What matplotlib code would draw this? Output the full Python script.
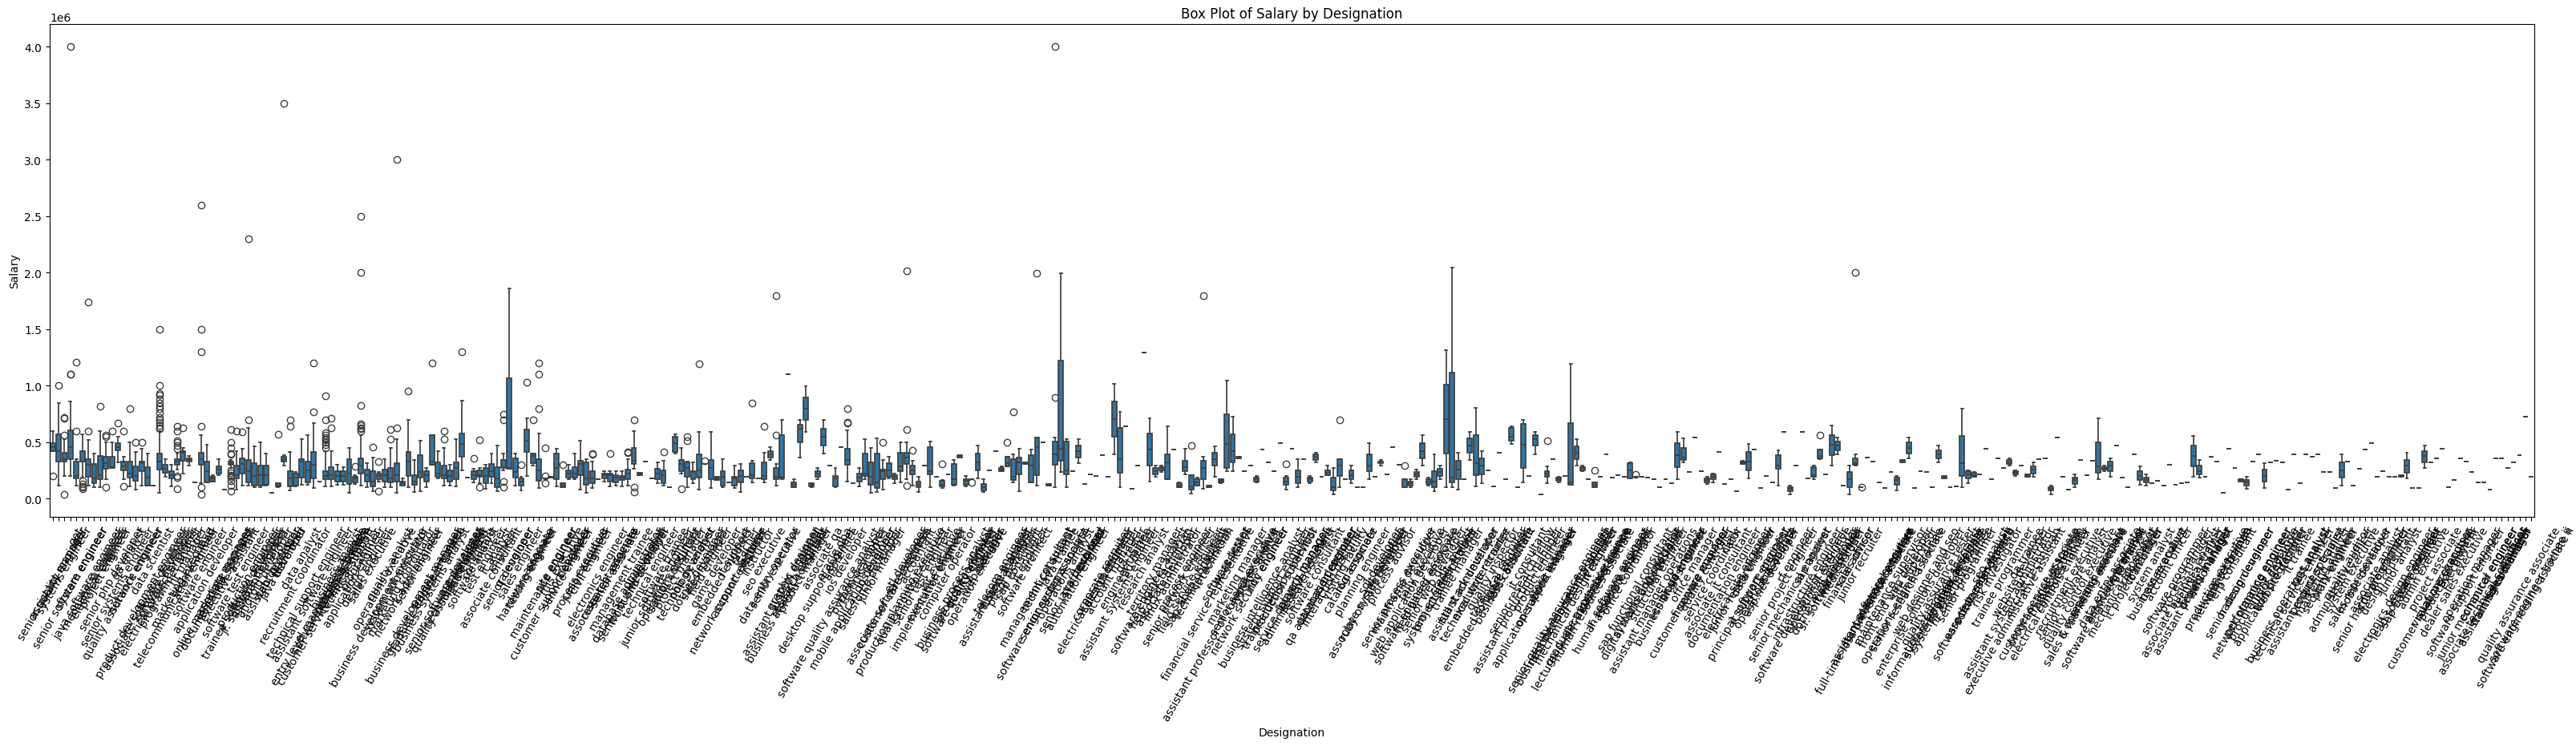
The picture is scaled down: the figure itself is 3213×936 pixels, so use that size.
import numpy as np
import matplotlib.pyplot as plt

# designations, in order of first appearance
designations = [
    "senior quality engineer", "assistant manager", "systems engineer", "senior software engineer", "get",
    "system engineer", "java software engineer", "mechanical engineer", "electrical engineer", "project engineer",
    "senior php developer", "senior systems engineer", "quality assurance engineer", "qa analyst", "network engineer",
    "product development engineer", "associate software developer", "data scientist", "electrical project engineer", "software developer",
    "programmer analyst", "telecommunication engineer", "marketing executive", "hr manager", "technical lead",
    "software engineer", "application developer", "online marketing manager", "documentation specialist", "associate engineer",
    "executive assistant", "software test engineer", "trainee software developer", "production engineer", "jr. software developer",
    "assistant engineer", "android developer", "assistant professor", "web developer", "java developer",
    "team lead", "recruitment coordinator", "data analyst", "technical support engineer", "assistant software engineer",
    "entry level management trainee", "customer service representative", "software engineer trainee", "business analyst", "process associate",
    "technical support", "application engineer", "programmer", "design engineer", "sales executive",
    "business development executive", "operations executive", "quality analyst", "system administrator", "marketing coordinator",
    "network administrator", "business development manager", "senior engineer", "graduate engineer trainee", "business systems analyst",
    "trainee engineer", "senior software developer", "quality assurance analyst", "technical consultant", "manual tester",
    "lead engineer", "software analyst", "consultant", "test engineer", "associate consultant",
    "it analyst", "engineer", "senior developer", "qa engineer", "sales engineer",
    "hardware engineer", "testing engineer", "associate", "maintenance engineer", "customer support engineer",
    "site engineer", "mis executive", "service engineer", "developer", "process executive",
    "junior engineer", "civil engineer", "electronics engineer", "associate test engineer", "research associate",
    "senior associate", "management trainee", "database administrator", "senior business analyst", "front end developer",
    "ui developer", "technical engineer", "junior software engineer", "software trainee", "operations engineer",
    "senior consultant", "project manager", "technology analyst", "php developer", "dotnet developer",
    "sales manager", "field engineer", "game developer", "embedded engineer", "network support engineer",
    "it support", "account executive", "teacher", "lecturer", "instructor",
    "seo executive", "data entry operator", "senior executive", "assistant system engineer", "business analyst consultant",
    "graphic designer", "research engineer", "product manager", "clerical", "desktop support engineer",
    "associate qa", "software quality assurance analyst", "oracle dba", "apprentice", "ios developer",
    "mobile application developer", "python developer", "technical writer", "salesforce developer", "ios engineer",
    "junior manager", "associate software engineer", "customer care executive", "production planning executive", "etl developer",
    "quality control engineer", "accountant", "senior test engineer", "implementation engineer", "executive engineer",
    "hr executive", "computer operator", "business process analyst", "software quality engineer", "project coordinator",
    "quality engineer", "operation executive", "web designer", "manager", "assistant store manager",
    "telecom engineer", "financial analyst", "pl/sql developer", "sap consultant", "software architect",
    "it engineer", "management consultant", "software engineering associate", "technical analyst", "senior systems analyst",
    "java trainee", "operations analyst", "senior java developer", "automation engineer", "staff engineer",
    "tech lead", "electrical design engineer", "corporate recruiter", "sales coordinator", "account manager",
    "assistant systems engineer", "engineer trainee", "qa tester", "cad drafter", "research analyst",
    "software engineer analyst", "territory manager", "help desk technician", "associate developer", "linux administrator",
    "senior network engineer", "process engineer", "field service engineer", "sap abap consultant", "technical assistant",
    "financial service representative", "it technician", "assistant professor of computer science", "software tester", "hr assistant",
    "marketing manager", "senior sales executive", "network security engineer", "systems analyst", "business intelligence analyst",
    "noc engineer", "system support engineer", "trainee decision scientist", "production supervisor", "service delivery manager",
    "administrative assistant", "branch manager", "research scientist", "software consultant", "qa automation engineer",
    "database developer", "interaction designer", "hr recruiter", "visiting faculty", "catalog associate",
    "r&d engineer", "planning engineer", "associate system engineer", "ruby on rails developer", "sql developer",
    "it executive", "process advisor", "senior process executive", "mainframe developer", "web application developer",
    "software engineer associate", "tally executive", "field based employee", "senior web developer", "system engineer trainee",
    "project administrator", "credit analyst", "trainee manager", "assistant administrator", "full stack developer",
    "technical writer trainee", "executive recruiter", "embedded software engineer", "quality inspector", "technical recruiter",
    "business consultant", "sales associate", "assistant production manager", "senior research fellow", "it consultant",
    "application support engineer", "product engineer", "operations manager", "store manager", "senior quality assurance engineer",
    "business development associate", "information security analyst", "mechanical design engineer", "lecturer & electrical maintenance", "graduate apprentice trainee",
    "human resources associate", "it recruiter", "customer service", "human resource assistant", "jr. software engineer",
    "associate manager", "office coordinator", "sap functional consultant", "digital marketing specialist", "systems administrator",
    "assistant manager operations", "structural engineer", "ux designer", "business analyst trainee", "senior qa engineer",
    "cloud engineer", "customer service manager", "office manager", "firmware engineer", "quality controller",
    "service coordinator", "associate it consultant", "documentation engineer", "clerk", "electrical site engineer",
    "junior research fellow", "principal software engineer", "data engineer", "it support specialist", "operations associate",
    "asp.net developer", "mis analyst", "senior project engineer", "senior mechanical engineer", "rf engineer",
    "software development engineer", "infrastructure engineer", "sap analyst", "operational executive", "dotnet web developer",
    "sr. software engineer", "it administrator", "medical coder", "financial advisor", "sales officer",
    "junior recruiter", "full-time loss prevention associate", "assistant electrical engineer", "human resource trainee", "software executive",
    "maintenance supervisor", "front end web developer", "operations engineer trainee", "senior research associate", "site supervisor",
    "enterprise solutions developer", "web designer and seo", "information technology specialist", "quality assurance tester", "system engineer associate",
    "systems engineer trainee", "teradata developer", "hr executive trainee", "senior programmer", "software test engineer (etl)",
    "associate sales trainee", "software engineer ii", "seo analyst", "risk investigator", "trainee programmer",
    "assistant system administrator", "executive administrative assistant", "website developer", "qa trainee", "aircraft technician",
    "customer service associate", "program analyst trainee", "electrical controls engineer", "trainee technician", "computer faculty",
    "recruitment executive", "senior software analyst", "quality control executive", "sales & marketing executive", "it operations associate",
    "research assistant", "software engineering trainee", "data entry associate", "associate professor", "mechanical supervisor",
    "gis analyst", "it project manager", "risk analyst", "loan officer", "system analyst",
    "business executive", "trainee analyst", "account officer", "software programmer", "associate business analyst",
    "process manager", "assistant project manager", "technical trainer", "deputy manager", "senior analyst",
    "production executive", "network technician", "project trainee", "erp consultant", "senior design engineer",
    "hadoop developer", "network planning engineer", "performance engineer", "procurement executive", "application programmer",
    "junior developer", "website designer", "business operations analyst", "technical services engineer", "it trainee",
    "assistant engineer trainee", "test analyst", "product specialist", "marketing analyst", "security engineer",
    "plant engineer", "administrative officer", "quality auditor", "system executive", "sales representative",
    "mobile developer", "senior hardware engineer", "associate analyst", "cnc programmer", "design consultant",
    "electronics design engineer", "junior analyst", "lead software engineer", "sap basis consultant", "team member",
    "admin executive", "customer relations executive", "project associate", "visual merchandiser", "production planner",
    "dealer sales executive", "executive hr", "software support engineer", "operation manager", "junior mechanical engineer",
    "associate technical consultant", "computer engineer", "assistant sales manager", "training coordinator", "research intern",
    "it officer", "quality assurance associate", "software engineering associate ii", "software engineer trainee ii",
]

# salary summaries per designation, in lakh (1e5), ten designations per row
whis_lo = [
    4.2, 1.2, 2.0, 2.0, 1.13, 1.9, 1.13, 1.0, 1.0, 1.7,
    2.7, 3.2, 1.7, 1.06, 0.83, 1.2, 1.2, 1.2, 0.54, 1.96,
    1.06, 2.55, 2.2, 2.97, 1.44, 1.37, 1.44, 1.5, 2.08, 0.83,
    2.7, 0.78, 1.2, 1.13, 1.0, 1.0, 1.2, 0.54, 1.0, 2.95,
    0.73, 1.06, 1.25, 1.25, 0.97, 1.5, 1.06, 1.06, 1.25, 1.25,
    0.5, 1.3, 1.2, 1.0, 0.66, 1.5, 1.0, 1.0, 0.54, 1.2,
    1.0, 0.6, 0.7, 1.0, 3.0, 1.77, 1.2, 1.2, 1.06, 2.48,
    1.9, 1.44, 1.37, 0.85, 1.37, 0.66, 2.5, 2.67, 1.2, 0.73,
    2.0, 2.97, 0.97, 1.77, 1.84, 1.06, 1.0, 1.72, 1.72, 0.78,
    0.5, 0.97, 1.72, 1.53, 1.06, 1.13, 1.06, 1.2, 2.67, 2.08,
    3.26, 1.77, 1.37, 1.13, 1.0, 3.97, 2.2, 0.99, 1.35, 0.83,
    3.07, 0.92, 1.65, 1.04, 1.46, 0.92, 0.57, 1.98, 1.46, 1.77,
    1.46, 3.42, 1.18, 1.75, 11.0, 1.04, 3.66, 5.9, 1.04, 1.7,
    4.01, 2.95, 1.04, 4.58, 1.53, 1.39, 1.06, 1.75, 0.52, 0.57,
    0.83, 1.82, 1.39, 1.42, 1.75, 1.18, 0.57, 2.95, 1.04, 1.98,
    0.92, 2.17, 1.18, 3.64, 1.06, 1.75, 1.82, 0.57, 2.53, 4.23,
    2.41, 2.88, 1.46, 0.68, 3.07, 1.42, 1.18, 5.0, 1.18, 1.04,
    2.36, 1.04, 2.41, 3.16, 1.32, 2.17, 2.0, 3.87, 1.94, 3.94,
    0.99, 6.42, 0.87, 2.95, 12.9, 1.53, 1.98, 2.36, 1.7, 4.37,
    0.99, 2.17, 0.47, 1.18, 0.87, 0.99, 1.98, 1.35, 2.41, 2.41,
    3.59, 2.41, 2.95, 1.42, 4.37, 3.23, 2.41, 4.93, 0.83, 4.46,
    0.99, 3.47, 1.35, 3.23, 1.98, 2.1, 0.4, 1.04, 1.75, 1.39,
    1.04, 0.99, 1.75, 1.98, 2.95, 2.17, 4.58, 3.0, 0.99, 1.04,
    1.75, 2.95, 1.18, 0.68, 1.75, 0.99, 1.04, 0.8, 1.75, 3.42,
    1.11, 1.39, 2.48, 1.11, 4.1, 1.75, 4.84, 0.99, 1.46, 2.0,
    3.94, 0.4, 1.35, 3.47, 1.46, 2.0, 1.27, 2.95, 2.41, 1.75,
    0.99, 1.98, 3.94, 1.89, 2.1, 1.98, 1.82, 1.98, 1.98, 1.89,
    1.75, 1.04, 1.75, 1.39, 1.75, 3.23, 2.38, 5.43, 2.46, 1.3,
    1.46, 4.11, 1.32, 1.75, 0.68, 3.05, 1.82, 4.37, 0.92, 2.05,
    1.46, 1.16, 5.95, 0.4, 2.97, 5.95, 1.82, 1.75, 3.47, 2.17,
    2.95, 3.94, 1.18, 0.35, 2.95, 0.99, 3.64, 3.3, 1.46, 0.92,
    2.38, 0.76, 3.23, 3.59, 0.92, 2.46, 2.38, 0.99, 3.23, 1.77,
    1.04, 1.11, 0.99, 1.39, 1.94, 2.17, 4.44, 1.75, 3.59, 2.74,
    2.95, 2.0, 2.95, 1.98, 1.94, 3.52, 3.59, 0.4, 5.43, 1.98,
    0.83, 1.04, 3.45, 2.1, 3.38, 1.75, 2.46, 1.98, 4.72, 1.89,
    1.04, 3.94, 1.27, 1.18, 1.39, 1.6, 1.18, 3.02, 1.27, 1.35,
    1.46, 1.98, 1.89, 1.98, 3.73, 3.3, 0.54, 4.44, 2.74, 1.51,
    0.87, 3.3, 3.94, 0.94, 3.23, 3.38, 3.23, 0.83, 3.94, 1.39,
    3.94, 3.73, 3.94, 2.38, 2.38, 0.97, 1.18, 3.26, 1.18, 2.67,
    4.37, 4.93, 1.96, 2.41, 1.96, 1.96, 1.94, 1.77, 0.97, 0.97,
    2.74, 3.23, 3.59, 4.44, 1.04, 1.68, 3.59, 3.3, 2.38, 1.46,
    1.46, 0.83, 3.59, 3.59, 2.74, 3.23, 3.87, 7.27, 1.96,
]
q1 = [
    4.2, 3.26, 3.26, 3.5, 1.77, 3.26, 1.96, 1.35, 1.72, 2.67,
    2.74, 4.27, 2.5, 1.84, 1.56, 2.43, 1.2, 1.2, 2.55, 2.27,
    1.77, 3.0, 3.38, 3.26, 1.44, 3.0, 1.44, 1.53, 2.2, 0.83,
    3.0, 1.77, 2.2, 1.44, 1.2, 1.2, 1.25, 0.54, 1.06, 3.26,
    1.06, 1.13, 1.84, 1.44, 1.77, 1.5, 1.7, 1.72, 1.53, 1.53,
    1.32, 1.44, 2.2, 1.5, 1.06, 1.72, 1.5, 1.42, 1.5, 1.2,
    2.0, 1.25, 1.84, 1.53, 3.0, 1.96, 1.77, 1.53, 1.72, 3.7,
    1.9, 1.72, 1.96, 1.37, 1.96, 1.0, 2.74, 2.67, 1.9, 1.13,
    4.15, 3.14, 1.56, 1.77, 1.84, 1.72, 1.0, 1.9, 1.9, 2.08,
    1.25, 1.37, 1.72, 1.77, 1.53, 1.44, 1.68, 1.72, 3.07, 2.08,
    3.26, 1.77, 1.72, 1.37, 1.0, 4.15, 2.43, 1.98, 1.7, 1.89,
    3.07, 1.75, 1.65, 1.18, 1.46, 1.18, 1.46, 1.98, 1.82, 1.77,
    1.7, 3.66, 1.75, 1.82, 11.0, 1.04, 4.96, 7.0, 1.11, 1.98,
    4.72, 2.95, 1.11, 4.58, 3.0, 1.39, 1.53, 2.05, 1.23, 0.92,
    1.75, 1.94, 1.7, 2.45, 3.05, 2.17, 0.99, 2.95, 2.17, 1.98,
    1.11, 2.17, 1.23, 3.64, 1.27, 1.75, 2.53, 0.76, 2.53, 4.23,
    2.41, 2.88, 1.65, 2.17, 3.07, 1.42, 2.1, 5.0, 1.18, 3.0,
    3.35, 2.17, 2.41, 3.66, 1.32, 2.17, 2.0, 3.87, 1.94, 5.48,
    2.29, 6.42, 0.87, 2.95, 12.9, 2.95, 2.17, 2.48, 1.75, 4.37,
    0.99, 2.46, 0.83, 1.18, 1.75, 0.99, 2.95, 1.42, 2.71, 3.23,
    3.59, 2.41, 2.95, 1.51, 4.37, 3.23, 2.41, 4.93, 1.23, 4.46,
    1.39, 3.47, 1.51, 3.42, 1.98, 2.1, 0.76, 2.0, 1.75, 1.75,
    1.04, 0.99, 2.41, 1.98, 3.12, 2.17, 4.58, 3.0, 0.99, 1.18,
    1.98, 3.59, 1.3, 1.04, 2.0, 3.99, 1.46, 1.7, 1.75, 4.06,
    2.1, 2.17, 2.48, 1.11, 4.1, 1.75, 5.17, 0.99, 2.71, 2.0,
    4.7, 0.4, 1.98, 3.47, 1.58, 2.0, 1.27, 3.52, 2.53, 1.75,
    0.99, 1.98, 3.94, 1.89, 2.1, 1.98, 1.82, 1.98, 1.98, 1.89,
    1.75, 1.04, 1.75, 1.39, 2.81, 3.42, 2.38, 5.43, 2.46, 1.42,
    1.7, 4.11, 1.32, 1.75, 0.68, 3.05, 2.53, 4.37, 0.92, 2.05,
    1.46, 2.64, 5.95, 0.68, 2.97, 5.95, 1.82, 1.94, 3.59, 2.17,
    3.87, 4.3, 1.18, 1.04, 3.0, 0.99, 3.64, 3.3, 1.46, 0.92,
    2.38, 1.23, 3.23, 4.01, 0.92, 2.46, 2.38, 0.99, 3.59, 1.77,
    1.04, 1.11, 2.05, 1.82, 1.98, 2.17, 4.44, 1.75, 3.59, 2.74,
    3.07, 2.17, 2.95, 1.98, 2.24, 3.52, 3.59, 0.71, 5.43, 1.98,
    0.83, 1.3, 3.45, 2.1, 3.38, 2.29, 2.6, 2.46, 4.72, 1.89,
    1.04, 3.94, 1.65, 1.46, 1.39, 1.6, 1.18, 3.02, 1.27, 1.35,
    1.46, 2.88, 2.17, 1.98, 3.73, 3.3, 0.54, 4.44, 2.74, 1.51,
    1.18, 3.3, 3.94, 1.51, 3.23, 3.38, 3.23, 0.83, 3.94, 1.39,
    3.94, 3.73, 3.94, 2.38, 2.38, 0.97, 1.89, 3.26, 1.18, 2.67,
    4.37, 4.93, 1.96, 2.41, 1.96, 1.96, 1.94, 2.31, 0.97, 0.97,
    3.21, 3.23, 3.59, 4.44, 1.04, 1.68, 3.59, 3.3, 2.38, 1.46,
    1.46, 0.83, 3.59, 3.59, 2.74, 3.23, 3.87, 7.27, 1.96,
]
median = [
    4.6, 4.2, 3.5, 4.55, 2.0, 3.3, 3.0, 1.77, 2.08, 3.14,
    2.79, 4.6, 2.9, 2.2, 2.0, 3.14, 1.9, 1.2, 3.26, 2.67,
    2.08, 3.26, 4.08, 3.45, 1.44, 3.5, 2.43, 1.77, 2.55, 0.83,
    3.14, 2.08, 3.1, 2.43, 2.0, 2.08, 2.08, 0.54, 1.2, 3.5,
    1.82, 1.84, 3.26, 2.48, 3.0, 1.5, 2.0, 2.08, 2.03, 2.0,
    2.2, 1.77, 2.97, 2.08, 1.5, 2.0, 2.08, 1.77, 2.08, 1.35,
    3.26, 1.5, 2.36, 2.08, 3.26, 2.2, 2.08, 2.0, 2.7, 4.84,
    1.9, 2.08, 2.08, 2.0, 2.43, 1.77, 2.8, 2.72, 2.38, 1.5,
    5.1, 3.8, 2.48, 1.77, 1.9, 2.74, 1.2, 2.2, 2.2, 3.07,
    1.77, 1.77, 1.72, 2.08, 2.08, 1.84, 1.9, 2.2, 3.38, 2.2,
    3.26, 1.77, 2.2, 2.08, 1.0, 4.9, 3.07, 2.69, 2.36, 2.53,
    3.07, 2.76, 1.82, 1.94, 1.46, 1.82, 2.0, 1.98, 2.1, 1.77,
    2.05, 3.94, 1.98, 1.98, 11.0, 1.27, 6.19, 7.98, 1.23, 2.22,
    5.48, 2.95, 1.82, 4.58, 3.42, 1.39, 1.89, 2.2, 1.98, 1.42,
    2.41, 2.48, 1.94, 2.88, 3.66, 2.53, 1.23, 2.95, 2.41, 1.98,
    1.27, 2.17, 1.75, 3.78, 1.58, 1.75, 3.23, 0.99, 2.53, 4.23,
    2.6, 3.12, 1.98, 3.23, 3.16, 2.95, 4.58, 5.0, 1.23, 3.94,
    4.46, 2.53, 2.41, 4.23, 1.32, 2.17, 2.0, 3.87, 1.94, 7.08,
    3.47, 6.42, 0.87, 2.95, 12.9, 4.37, 2.41, 2.69, 3.23, 4.37,
    1.18, 2.83, 1.11, 1.46, 2.71, 1.06, 3.52, 1.58, 4.84, 4.18,
    3.66, 2.41, 2.95, 1.75, 4.37, 3.23, 2.41, 4.93, 1.51, 4.46,
    1.98, 3.47, 1.7, 3.7, 1.98, 2.29, 1.04, 2.95, 1.75, 2.1,
    1.04, 0.99, 2.95, 1.98, 3.21, 2.17, 4.58, 3.0, 1.04, 1.35,
    2.17, 4.23, 1.51, 1.53, 2.34, 7.06, 1.86, 2.6, 1.75, 4.72,
    3.16, 2.95, 2.48, 1.11, 4.1, 1.75, 5.48, 0.99, 4.77, 2.0,
    5.31, 0.4, 2.22, 3.47, 1.75, 2.0, 1.42, 4.1, 2.69, 1.75,
    1.23, 1.98, 3.94, 1.89, 2.1, 1.98, 2.48, 1.98, 1.98, 1.89,
    1.75, 1.04, 1.75, 1.39, 3.87, 3.66, 2.38, 5.43, 2.46, 1.63,
    1.94, 4.11, 1.32, 1.75, 0.68, 3.16, 3.3, 4.37, 0.92, 2.05,
    1.46, 2.95, 5.95, 0.87, 2.97, 5.95, 1.82, 2.1, 3.78, 2.17,
    4.77, 4.7, 1.18, 1.7, 3.16, 0.99, 3.64, 3.3, 1.46, 0.92,
    2.38, 1.63, 3.33, 4.51, 0.92, 2.46, 2.38, 0.99, 3.94, 1.89,
    1.04, 1.11, 3.16, 2.17, 2.12, 2.17, 4.44, 1.75, 3.59, 2.74,
    3.23, 2.29, 2.95, 2.08, 2.6, 3.52, 3.59, 0.87, 5.43, 1.98,
    0.83, 1.63, 3.45, 2.1, 3.38, 2.88, 2.71, 2.95, 4.72, 1.89,
    1.04, 3.94, 2.05, 1.68, 1.39, 1.6, 1.18, 3.02, 1.27, 1.35,
    1.46, 3.82, 2.46, 1.98, 3.73, 3.3, 0.54, 4.44, 2.74, 1.6,
    1.42, 3.3, 3.94, 2.03, 3.23, 3.38, 3.23, 0.83, 3.94, 1.39,
    3.94, 3.73, 3.94, 2.38, 2.38, 0.97, 2.53, 3.26, 1.18, 2.67,
    4.37, 4.93, 1.96, 2.41, 1.96, 1.96, 2.03, 2.93, 0.97, 0.97,
    3.78, 3.23, 3.59, 4.44, 1.04, 1.68, 3.59, 3.3, 2.38, 1.46,
    1.46, 0.83, 3.59, 3.59, 2.74, 3.23, 3.87, 7.27, 1.96,
]
q3 = [
    4.9, 5.67, 4.08, 6.09, 3.26, 4.2, 3.5, 3.07, 3.78, 3.73,
    3.75, 4.9, 3.3, 3.26, 2.9, 3.26, 2.83, 1.2, 3.97, 3.0,
    2.43, 3.5, 4.2, 3.6, 1.44, 4.08, 3.26, 1.96, 2.9, 0.83,
    3.26, 2.95, 3.6, 3.4, 3.14, 2.97, 2.97, 0.54, 1.37, 3.7,
    2.43, 2.2, 3.5, 3.26, 4.13, 1.5, 2.43, 2.79, 2.43, 2.43,
    3.5, 1.96, 3.6, 2.6, 2.43, 2.24, 2.6, 2.74, 3.14, 1.5,
    4.15, 2.12, 3.85, 2.43, 5.6, 3.2, 2.95, 2.48, 3.2, 5.8,
    1.9, 2.43, 2.48, 2.74, 3.07, 2.83, 3.45, 10.7, 3.6, 1.77,
    6.14, 3.97, 3.5, 1.77, 1.96, 3.97, 1.37, 2.5, 2.83, 3.38,
    3.2, 2.43, 1.72, 2.24, 2.24, 2.08, 2.0, 2.55, 4.5, 2.3,
    3.26, 1.77, 2.67, 2.48, 1.0, 5.5, 3.45, 3.23, 2.41, 3.94,
    3.07, 3.42, 1.94, 2.41, 1.46, 1.94, 2.53, 1.98, 3.12, 1.77,
    3.23, 4.23, 2.71, 5.6, 11.0, 1.46, 6.54, 8.97, 1.35, 2.45,
    6.19, 2.95, 2.0, 4.58, 4.41, 1.39, 2.22, 3.99, 3.23, 4.01,
    2.6, 3.16, 2.12, 4.06, 4.06, 2.95, 1.51, 2.95, 4.58, 1.98,
    1.58, 2.17, 3.05, 3.87, 1.75, 1.75, 4.01, 1.3, 2.53, 4.23,
    2.76, 3.75, 3.52, 3.66, 3.23, 3.87, 5.43, 5.0, 1.28, 5.05,
    12.2, 5.08, 2.41, 4.72, 1.32, 2.17, 2.0, 3.87, 1.94, 8.62,
    6.26, 6.42, 0.87, 2.95, 12.9, 5.78, 2.69, 2.83, 3.94, 4.37,
    1.35, 3.35, 2.1, 1.7, 3.35, 1.16, 4.06, 1.7, 7.48, 5.71,
    3.75, 2.41, 2.95, 1.86, 4.37, 3.23, 2.41, 4.93, 1.89, 4.46,
    2.53, 3.47, 1.86, 3.94, 1.98, 2.53, 1.89, 3.47, 1.75, 2.53,
    1.04, 0.99, 3.94, 1.98, 3.3, 2.17, 4.58, 3.0, 1.75, 1.53,
    2.36, 4.93, 1.7, 2.41, 2.64, 10.13, 11.19, 3.35, 1.75, 5.36,
    5.6, 3.59, 2.48, 1.11, 4.1, 1.75, 6.26, 0.99, 6.59, 2.0,
    5.64, 0.4, 2.46, 3.47, 1.86, 2.0, 6.7, 4.65, 2.83, 1.75,
    1.46, 1.98, 3.94, 1.89, 2.1, 1.98, 3.12, 1.98, 1.98, 1.89,
    1.75, 1.04, 1.75, 1.39, 4.93, 4.53, 2.38, 5.43, 2.46, 1.82,
    2.17, 4.11, 1.32, 1.75, 0.68, 3.28, 4.11, 4.37, 0.92, 2.05,
    1.46, 3.87, 5.95, 1.04, 2.97, 5.95, 1.82, 2.81, 4.37, 2.17,
    5.64, 5.08, 1.18, 2.34, 3.59, 0.99, 3.64, 3.3, 1.46, 0.92,
    2.38, 1.87, 3.42, 5.0, 0.92, 2.46, 2.38, 0.99, 4.3, 2.0,
    1.04, 1.11, 5.57, 2.46, 2.29, 2.17, 4.44, 1.75, 3.59, 2.74,
    3.4, 2.41, 2.95, 2.17, 2.88, 3.52, 3.59, 1.04, 5.43, 1.98,
    0.83, 1.89, 3.45, 2.1, 3.38, 5.0, 2.81, 3.3, 4.72, 1.89,
    1.04, 3.94, 2.46, 1.89, 1.39, 1.6, 1.18, 3.02, 1.27, 1.35,
    1.46, 4.72, 2.93, 1.98, 3.73, 3.3, 0.54, 4.44, 2.74, 1.7,
    1.65, 3.3, 3.94, 2.6, 3.23, 3.38, 3.23, 0.83, 3.94, 1.39,
    3.94, 3.73, 3.94, 2.38, 2.38, 0.97, 3.23, 3.26, 1.18, 2.67,
    4.37, 4.93, 1.96, 2.41, 1.96, 1.96, 2.1, 3.45, 0.97, 0.97,
    4.23, 3.23, 3.59, 4.44, 1.04, 1.68, 3.59, 3.3, 2.38, 1.46,
    1.46, 0.83, 3.59, 3.59, 2.74, 3.23, 3.87, 7.27, 1.96,
]
whis_hi = [
    6.0, 8.5, 5.3, 8.6, 3.5, 5.7, 5.2, 3.97, 6.0, 4.96,
    5.0, 5.5, 3.7, 4.96, 4.15, 4.4, 3.97, 1.2, 6.0, 3.5,
    3.0, 3.97, 4.5, 3.8, 1.44, 5.6, 4.75, 2.08, 3.5, 0.83,
    3.4, 4.2, 4.4, 6.3, 4.67, 4.96, 3.97, 0.54, 1.4, 3.85,
    4.15, 2.38, 5.26, 5.6, 6.7, 1.5, 4.2, 4.2, 3.0, 2.8,
    4.5, 2.1, 5.6, 3.14, 3.66, 2.4, 3.5, 4.5, 5.26, 1.77,
    7.0, 3.4, 5.1, 2.74, 5.6, 4.2, 4.5, 3.0, 5.3, 8.7,
    1.9, 2.67, 2.7, 3.0, 3.97, 4.7, 3.97, 18.6, 3.97, 1.96,
    7.15, 3.97, 5.74, 1.77, 1.96, 4.44, 1.4, 3.0, 3.97, 5.1,
    3.5, 3.26, 1.72, 2.43, 2.43, 2.43, 2.43, 3.5, 6.0, 2.3,
    3.26, 1.77, 3.2, 3.33, 1.0, 5.67, 4.5, 3.3, 3.23, 5.95,
    3.07, 5.95, 1.94, 3.47, 1.46, 2.95, 3.05, 1.98, 3.35, 1.77,
    4.1, 4.58, 3.05, 7.0, 11.0, 1.75, 7.0, 9.96, 1.35, 2.76,
    7.0, 2.95, 2.76, 4.58, 6.07, 1.39, 2.76, 5.29, 4.53, 5.36,
    3.42, 3.75, 2.22, 4.96, 4.96, 3.35, 1.94, 2.95, 5.08, 1.98,
    1.63, 2.17, 3.42, 3.87, 2.0, 1.75, 4.72, 1.75, 2.53, 4.23,
    2.88, 3.75, 3.9, 4.46, 3.23, 4.37, 5.43, 5.0, 1.28, 5.43,
    19.95, 5.29, 2.41, 5.29, 1.32, 2.17, 2.0, 3.87, 1.94, 10.15,
    7.67, 6.42, 0.87, 2.95, 12.9, 7.13, 2.95, 2.95, 6.42, 4.37,
    1.46, 4.46, 2.1, 1.89, 3.75, 1.16, 4.65, 1.7, 10.48, 7.29,
    3.75, 2.41, 2.95, 2.0, 4.37, 3.23, 2.41, 4.93, 2.0, 4.46,
    3.52, 3.47, 2.0, 4.1, 1.98, 2.95, 2.76, 3.47, 1.75, 2.95,
    1.04, 0.99, 4.93, 1.98, 3.42, 2.17, 4.58, 3.0, 1.75, 1.75,
    2.6, 5.6, 1.89, 3.94, 2.95, 13.15, 20.47, 4.1, 1.75, 5.95,
    8.07, 4.18, 2.48, 1.11, 4.1, 1.75, 6.42, 0.99, 7.01, 2.0,
    5.95, 0.4, 2.88, 3.47, 1.98, 2.0, 11.97, 5.31, 2.95, 1.75,
    1.46, 1.98, 3.94, 1.89, 2.1, 1.98, 3.23, 1.98, 1.98, 1.89,
    1.75, 1.04, 1.75, 1.39, 5.95, 5.36, 2.38, 5.43, 2.46, 1.94,
    2.24, 4.11, 1.32, 1.75, 0.68, 3.35, 4.82, 4.37, 0.92, 2.05,
    1.46, 4.25, 5.95, 1.16, 2.97, 5.95, 1.82, 2.95, 4.37, 2.17,
    6.49, 5.43, 1.18, 2.95, 3.94, 0.99, 3.64, 3.3, 1.46, 0.92,
    2.38, 2.0, 3.42, 5.43, 0.92, 2.46, 2.38, 0.99, 4.72, 2.0,
    1.04, 1.11, 7.98, 2.53, 2.36, 2.17, 4.44, 1.75, 3.59, 2.74,
    3.59, 2.53, 2.95, 2.17, 3.23, 3.52, 3.59, 1.18, 5.43, 1.98,
    0.83, 2.17, 3.45, 2.1, 3.38, 7.13, 2.93, 3.59, 4.72, 1.89,
    1.04, 3.94, 2.88, 2.17, 1.39, 1.6, 1.18, 3.02, 1.27, 1.35,
    1.46, 5.57, 3.45, 1.98, 3.73, 3.3, 0.54, 4.44, 2.74, 1.7,
    1.98, 3.3, 3.94, 3.16, 3.23, 3.38, 3.23, 0.83, 3.94, 1.39,
    3.94, 3.73, 3.94, 2.38, 2.38, 0.97, 3.94, 3.26, 1.18, 2.67,
    4.37, 4.93, 1.96, 2.41, 1.96, 1.96, 2.1, 4.08, 0.97, 0.97,
    4.72, 3.23, 3.59, 4.44, 1.04, 1.68, 3.59, 3.3, 2.38, 1.46,
    1.46, 0.83, 3.59, 3.59, 2.74, 3.23, 3.87, 7.27, 1.96,
]

# outliers by designation index, in lakh
outliers = {
    0: [2.0], 1: [10.0], 2: [7.2, 7.15, 5.6, 0.35], 3: [40.0, 11.0, 11.0],
    4: [12.1, 6.0], 5: [1.6, 1.3, 1.1, 1.0, 0.9], 6: [17.4, 6.0], 8: [8.2],
    9: [5.6, 5.5, 1.0], 10: [6.0], 11: [6.7], 12: [6.0, 1.06], 13: [8.0],
    14: [5.0], 15: [5.0],
    18: [15.0, 10.0, 9.3, 9.2, 8.8, 8.5, 8.2, 8.0, 7.6, 7.2, 7.0, 6.8, 6.5, 6.3, 6.2],
    21: [6.4, 6.0, 5.15, 5.0, 4.7, 4.4, 2.0, 1.84, 0.9], 22: [6.3],
    25: [26.0, 15.0, 13.0, 6.4, 1.0, 0.35],
    30: [6.1, 5.0, 4.5, 3.97, 3.9, 2.5, 2.3, 2.1, 2.0, 1.84, 1.6, 1.13, 0.66],
    31: [6.0], 32: [5.95], 33: [23.0, 7.0], 38: [5.7], 39: [35.0],
    40: [7.0, 6.4], 44: [12.0, 7.67],
    46: [9.1, 7.0, 5.85, 5.6, 5.4, 5.3, 5.2, 5.0, 4.8, 4.5],
    47: [7.15, 6.25], 51: [2.86], 52: [25.0, 20.0, 8.24, 6.6, 6.5, 6.3, 6.2, 6.0],
    54: [4.6], 55: [3.26, 0.7], 57: [6.16, 5.26], 58: [30.0, 6.25], 60: [9.5],
    64: [12.0], 66: [6.0, 5.26], 69: [13.0], 71: [3.6], 72: [5.2, 1.0],
    76: [7.5, 7.0, 1.5, 1.0], 79: [3.0], 80: [10.3], 81: [7.0],
    82: [12.0, 11.0, 8.0], 83: [4.5, 2.0, 1.4], 86: [3.0], 91: [3.97, 3.9],
    94: [3.97], 97: [4.13, 4.04], 98: [7.0, 1.0, 0.6], 103: [4.13], 106: [0.85],
    107: [5.48, 5.17], 109: [11.97], 110: [3.35], 118: [8.5], 120: [6.42],
    122: [18.0, 5.6], 134: [7.98, 6.78, 6.73], 140: [4.96], 144: [20.2, 6.14, 1.18],
    145: [4.3], 150: [3.05], 155: [1.42], 161: [4.96], 162: [7.72], 166: [19.95],
    169: [40.0, 8.97], 192: [4.72], 194: [17.96], 208: [3.05], 217: [7.01],
    228: [2.95], 252: [5.17], 260: [2.48], 267: [2.17], 298: [5.6], 304: [20.0],
    305: [1.04],
}

LAKH = 1e5
n = len(designations)
for arr in (whis_lo, q1, median, q3, whis_hi):
    assert len(arr) == n, len(arr)

stats = []
for i in range(n):
    stats.append(dict(
        whislo=whis_lo[i] * LAKH, q1=q1[i] * LAKH, med=median[i] * LAKH,
        q3=q3[i] * LAKH, whishi=whis_hi[i] * LAKH,
        fliers=[v * LAKH for v in outliers.get(i, [])],
    ))

line_col = "#3f3f3f"
box_col = "#3274a1"

fig = plt.figure(figsize=(32.13, 9.37), dpi=100)
ax = fig.add_axes([62 / 3213, 291 / 937, 3099 / 3213, 615 / 937])

ax.bxp(stats, positions=np.arange(n), widths=0.8, patch_artist=True,
       boxprops=dict(facecolor=box_col, edgecolor=line_col, linewidth=1.25),
       whiskerprops=dict(color=line_col, linewidth=1.25),
       capprops=dict(color=line_col, linewidth=1.25),
       medianprops=dict(color=line_col, linewidth=1.25),
       flierprops=dict(marker="o", markerfacecolor="none", markeredgecolor=line_col,
                       markersize=6, markeredgewidth=1.0, linestyle="none"))

ax.set_xlim(-0.5, n - 0.5)
ax.set_ylim(-0.16e6, 4.2e6)
ax.set_xticks(np.arange(n))
ax.set_xticklabels(designations, rotation=60)
ax.set_title("Box Plot of Salary by Designation")
ax.set_xlabel("Designation")
ax.set_ylabel("Salary")

fig.savefig("out.png", dpi=100)
